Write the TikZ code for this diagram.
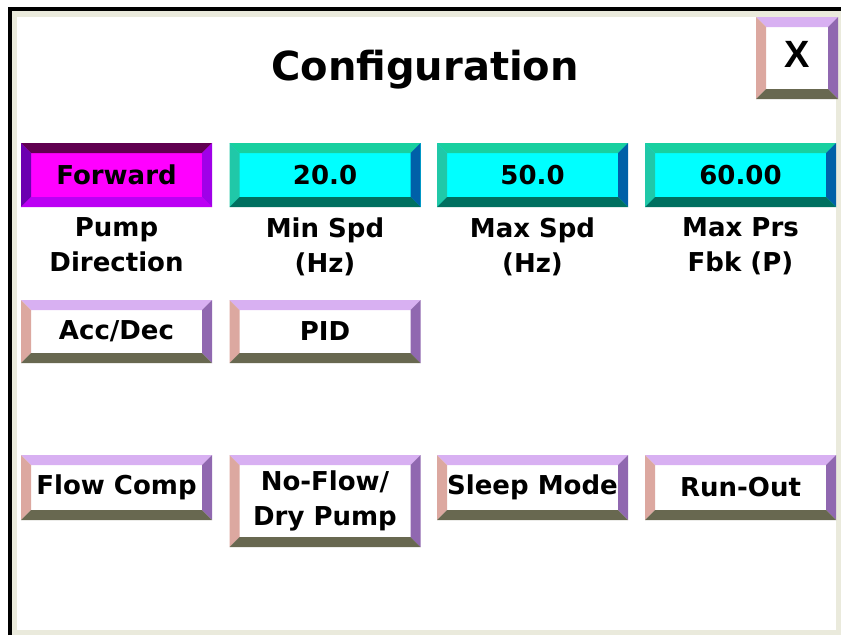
\documentclass[tikz,border=0pt]{standalone}
\usepackage{fontspec}
\setmainfont{DejaVu Sans}
\newfontfamily\closefont{Liberation Sans}
\usepackage{tikz}
\usetikzlibrary{positioning}

\definecolor{panelrim}{HTML}{EAEADC}
% plain (white) buttons
\definecolor{btnTop}{HTML}{D8B0F2}
\definecolor{btnLeft}{HTML}{DCA8A0}
\definecolor{btnRight}{HTML}{9068B0}
\definecolor{btnBot}{HTML}{686850}
% magenta button
\definecolor{fwdFace}{HTML}{FF00FF}
\definecolor{fwdTop}{HTML}{600050}
\definecolor{fwdLeft}{HTML}{6C00B0}
\definecolor{fwdRight}{HTML}{A000E8}
\definecolor{fwdBot}{HTML}{BC00F4}
% cyan buttons
\definecolor{spdFace}{HTML}{00FFFF}
\definecolor{spdTop}{HTML}{18D0A0}
\definecolor{spdLeft}{HTML}{20C8A8}
\definecolor{spdRight}{HTML}{0060A8}
\definecolor{spdBot}{HTML}{007060}

\newcommand\btnfont{\fontsize{26}{35}\selectfont\bfseries}

\begin{document}
\begin{tikzpicture}[
  x=1pt, y=-1pt,
  % Styles
  bevel/.style n args={4}{path picture={
    \path (path picture bounding box.north west) coordinate (pnw)
          (path picture bounding box.north east) coordinate (pne)
          (path picture bounding box.south west) coordinate (psw)
          (path picture bounding box.south east) coordinate (pse);
    \fill[#1] (pnw) -- (pne) -- ([shift={(-10pt,-10pt)}]pne) -- ([shift={(10pt,-10pt)}]pnw) -- cycle;
    \fill[#2] (pnw) -- ([shift={(10pt,-10pt)}]pnw) -- ([shift={(10pt,10pt)}]psw) -- (psw) -- cycle;
    \fill[#3] (pne) -- (pse) -- ([shift={(-10pt,10pt)}]pse) -- ([shift={(-10pt,-10pt)}]pne) -- cycle;
    \fill[#4] (psw) -- ([shift={(10pt,10pt)}]psw) -- ([shift={(-10pt,10pt)}]pse) -- (pse) -- cycle;
  }},
  btn/.style={rectangle, inner sep=0pt, minimum width=191pt, minimum height=64pt,
              font=\btnfont, align=center},
  wbtn/.style={btn, fill=white, bevel={btnTop}{btnLeft}{btnRight}{btnBot}},
  fwdbtn/.style={btn, fill=fwdFace, bevel={fwdTop}{fwdLeft}{fwdRight}{fwdBot}},
  spdbtn/.style={btn, fill=spdFace, bevel={spdTop}{spdLeft}{spdRight}{spdBot}},
  caption/.style={inner sep=0pt, font=\btnfont, align=center},
  title/.style={font=\fontsize{40}{48}\selectfont\bfseries}
]
\useasboundingbox (0,0) rectangle (841,635);

% --- Panel frame ---
\draw[panelrim, line width=5.5pt] (14.5,13.75) rectangle (839,632.5);
\draw[line width=3.5pt] (10,635) -- (10,8.75) -- (841,8.75);

% --- Title and close ---
\node[title] (title) at (425,70) {Configuration};
\node[wbtn, minimum width=82pt, minimum height=82pt,
      font=\closefont\bfseries\fontsize{38}{44}\selectfont] (close) at (797,58)
  {\raisebox{7pt}{X}};

% --- Row 1: value buttons ---
\node[fwdbtn] (pumpdir) at (116.5,175) {Forward};
\node[spdbtn] (minspd) at (325,175) {20.0};
\node[spdbtn] (maxspd) at (532.5,175) {50.0};
\node[spdbtn] (maxprs) at (740.5,175) {60.00};

\node[caption, below=10pt of pumpdir] (pumpdirlbl) {Pump\\Direction};
\node[caption, below=10pt of minspd] (minspdlbl) {Min Spd\\(Hz)};
\node[caption, below=10pt of maxspd] (maxspdlbl) {Max Spd\\(Hz)};
\node[caption, below=10pt of maxprs] (maxprslbl) {Max Prs\\Fbk (P)};

% --- Row 2 ---
\node[wbtn, minimum height=63pt] (accdec) at (116.5,331.5) {Acc/Dec};
\node[wbtn, minimum height=63pt] (pid) at (325,331.5) {PID};

% --- Row 3 ---
\node[wbtn, minimum height=65pt] (flowcomp) at (116.5,487.5) {Flow Comp};
\node[wbtn, minimum height=92pt] (noflow) at (325,501) {No-Flow/\\Dry Pump};
\node[wbtn, minimum height=65pt] (sleep) at (532.5,487.5) {Sleep Mode};
\node[wbtn, minimum height=65pt] (runout) at (740.5,487.5) {Run-Out};

\end{tikzpicture}
\end{document}
